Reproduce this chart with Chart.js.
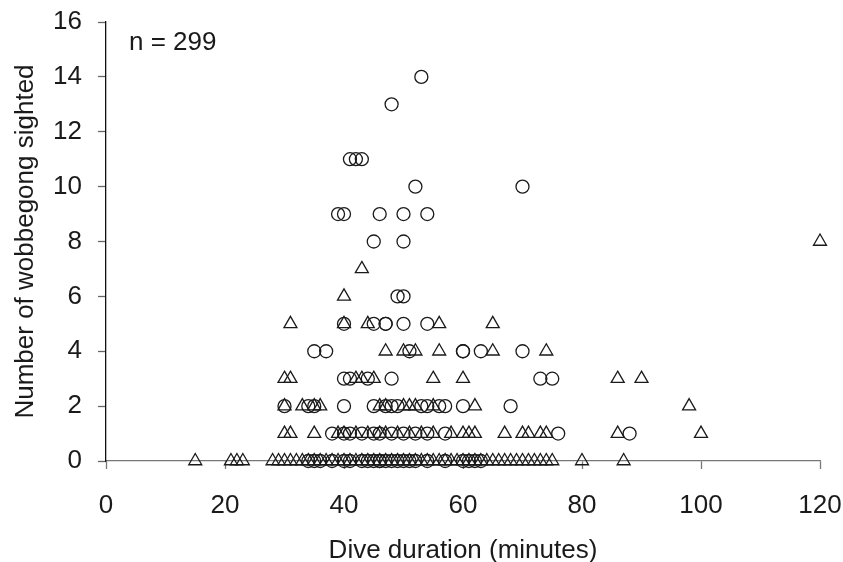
<!DOCTYPE html>
<html>
<head>
<meta charset="utf-8">
<script src="https://cdn.jsdelivr.net/npm/chart.js@4.4.1/dist/chart.umd.min.js"></script>
<style>
  body { margin: 0; background: #fff; }
  canvas { display: block; }
</style>
</head>
<body>
<canvas id="diveChart" width="843" height="562"></canvas>
<script>
// Dives plotted with circles: duration (minutes) and wobbegong count
const circleDuration = [
    53,
    48,
    41, 42, 43,
    52, 70,
    39, 40, 46, 50, 54,
    45, 50,
    49, 50,
    40, 45, 47, 47, 50, 54,
    35, 37, 51, 60, 60, 63, 70,
    40, 41, 44, 48, 73, 75,
    30, 34, 35, 40, 45, 47, 48, 49, 53, 54, 56, 57, 60, 68,
    38, 40, 41, 43, 45, 46, 48, 50, 52, 54, 57, 76, 88,
    34, 35, 36, 38, 40, 41, 43, 44, 45, 46, 46, 47, 48, 49, 50, 51, 52, 54, 57, 60, 61, 62, 63
];
const circleCount = [
    14,
    13,
    11, 11, 11,
    10, 10,
    9, 9, 9, 9, 9,
    8, 8,
    6, 6,
    5, 5, 5, 5, 5, 5,
    4, 4, 4, 4, 4, 4, 4,
    3, 3, 3, 3, 3, 3,
    2, 2, 2, 2, 2, 2, 2, 2, 2, 2, 2, 2, 2, 2,
    1, 1, 1, 1, 1, 1, 1, 1, 1, 1, 1, 1, 1,
    0, 0, 0, 0, 0, 0, 0, 0, 0, 0, 0, 0, 0, 0, 0, 0, 0, 0, 0, 0, 0, 0, 0
];

// Dives plotted with triangles
const triangleDuration = [
    120,
    43,
    40,
    31, 40, 44, 56, 65,
    47, 50, 52, 56, 65, 74,
    30, 31, 42, 43, 45, 55, 60, 86, 90,
    30, 33, 35, 36, 46, 47, 50, 51, 52, 55, 62, 98,
    30, 31, 35, 39, 40, 42, 44, 46, 47, 49, 51, 53, 55, 58, 60, 61, 62, 67, 70, 71, 73, 74, 86, 100,
    15, 21, 22, 23, 28, 29, 30, 31, 32, 33, 34, 35, 36, 37, 38, 39, 40, 41, 42, 43, 44, 45,
    46, 47, 48, 49, 50, 51, 52, 53, 54, 55, 56, 57, 58, 59, 60, 61, 62, 63, 64, 65, 66, 67,
    68, 69, 70, 71, 72, 73, 74, 75, 80, 87
];
const triangleCount = [
    8,
    7,
    6,
    5, 5, 5, 5, 5,
    4, 4, 4, 4, 4, 4,
    3, 3, 3, 3, 3, 3, 3, 3, 3,
    2, 2, 2, 2, 2, 2, 2, 2, 2, 2, 2, 2,
    1, 1, 1, 1, 1, 1, 1, 1, 1, 1, 1, 1, 1, 1, 1, 1, 1, 1, 1, 1, 1, 1, 1, 1,
    0, 0, 0, 0, 0, 0, 0, 0, 0, 0, 0, 0, 0, 0, 0, 0, 0, 0, 0, 0, 0, 0,
    0, 0, 0, 0, 0, 0, 0, 0, 0, 0, 0, 0, 0, 0, 0, 0, 0, 0, 0, 0, 0, 0,
    0, 0, 0, 0, 0, 0, 0, 0, 0, 0
];

const sampleLabel = "n = 299";

const xTicks = [0, 20, 40, 60, 80, 100, 120];
const yTicks = [0, 2, 4, 6, 8, 10, 12, 14, 16];

const toPoints = (xs, ys) => xs.map((x, i) => ({ x: x, y: ys[i] }));

const FONT = '"Liberation Sans", Arial, sans-serif';
const FONT_SIZE = 26;
const ink = '#1a1a1a';

// fixed axis boxes, and no extra room reserved for overhanging tick labels
const fixSize = (prop, size) => (scale) => {
    scale[prop] = size;
    scale.paddingTop = 0;
    scale.paddingBottom = 0;
    scale.paddingLeft = 0;
    scale.paddingRight = 0;
};

// writes the sample size in the top-left corner of the plot
const sampleSizePlugin = {
    id: 'sampleSize',
    afterDraw(chart) {
        const ctx = chart.ctx;
        ctx.save();
        ctx.font = FONT_SIZE + 'px ' + FONT;
        ctx.fillStyle = ink;
        ctx.textBaseline = 'middle';
        ctx.fillText(sampleLabel, chart.chartArea.left + 23, chart.chartArea.top + 21);
        ctx.restore();
    }
};

const ctx = document.getElementById('diveChart').getContext('2d');
new Chart(ctx, {
    type: 'scatter',
    data: {
        datasets: [
            {
                data: toPoints(circleDuration, circleCount),
                pointStyle: 'circle',
                pointRadius: 6.5,
                borderColor: ink,
                borderWidth: 1.3,
                backgroundColor: 'rgba(0,0,0,0)',
                clip: false
            },
            {
                data: toPoints(triangleDuration, triangleCount),
                pointStyle: 'triangle',
                pointRadius: 7.5,
                borderColor: ink,
                borderWidth: 1.3,
                backgroundColor: 'rgba(0,0,0,0)',
                clip: false
            }
        ]
    },
    options: {
        responsive: false,
        animation: false,
        layout: {
            autoPadding: false,
            padding: { left: 0, top: 22, right: 23, bottom: 0 }
        },
        plugins: {
            legend: { display: false },
            tooltip: { enabled: false }
        },
        scales: {
            x: {
                type: 'linear',
                min: 0,
                max: 120,
                afterFit: fixSize('height', 101),
                afterBuildTicks: (scale) => { scale.ticks = xTicks.map(v => ({ value: v })); },
                border: { display: true, color: '#777', width: 1.3 },
                grid: {
                    drawOnChartArea: false,
                    drawTicks: true,
                    tickLength: 8,
                    tickColor: '#777',
                    tickWidth: 1.3
                },
                ticks: {
                    color: ink,
                    padding: 21,
                    font: { family: FONT, size: FONT_SIZE }
                },
                title: {
                    display: true,
                    text: 'Dive duration (minutes)',
                    color: ink,
                    padding: { top: 0, bottom: -2 },
                    font: { family: FONT, size: FONT_SIZE, lineHeight: 1 }
                }
            },
            y: {
                type: 'linear',
                min: 0,
                max: 16,
                afterFit: fixSize('width', 106),
                afterBuildTicks: (scale) => { scale.ticks = yTicks.map(v => ({ value: v })); },
                border: { display: true, color: '#111', width: 1.3 },
                grid: {
                    drawOnChartArea: false,
                    drawTicks: true,
                    tickLength: 8,
                    tickColor: '#666',
                    tickWidth: 1.3
                },
                ticks: {
                    color: ink,
                    padding: 16,
                    font: { family: FONT, size: FONT_SIZE }
                },
                title: {
                    display: true,
                    text: 'Number of wobbegong sighted',
                    color: ink,
                    padding: { top: 10, bottom: 0 },
                    font: { family: FONT, size: FONT_SIZE, lineHeight: 1.2 }
                }
            }
        }
    },
    plugins: [sampleSizePlugin]
});
</script>
</body>
</html>
